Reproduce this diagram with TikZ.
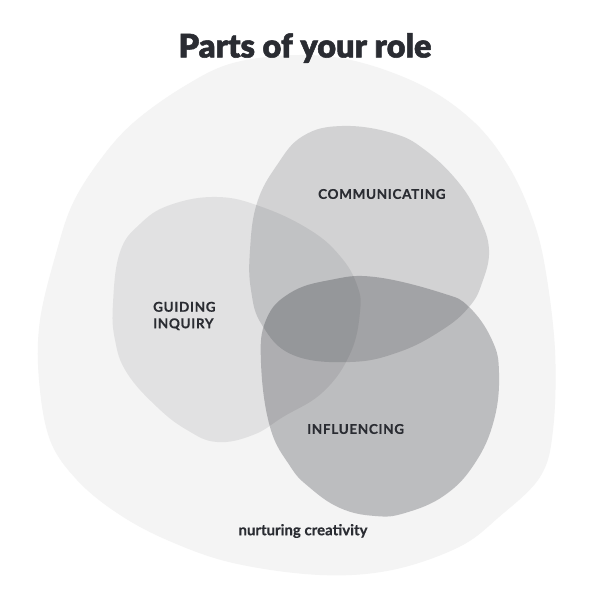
\documentclass[tikz,border=0pt]{standalone}
\usepackage{fontspec}
\setmainfont{Lato}
\newfontfamily\titlefont[FakeBold=1.6]{Lato Black}
\newfontfamily\labelfont[LetterSpace=5,FakeBold=0.4]{Lato Bold}
\newfontfamily\notefont[FakeBold=0.3]{Lato Bold}
\definecolor{outerfill}{RGB}{244,244,244}
\definecolor{ink}{RGB}{10,12,20}
\definecolor{txt}{RGB}{42,44,50}
\tikzset{
  blob/.style={fill=ink, draw=none},
  lbl/.style={text=txt, font=\labelfont\fontsize{13.5}{16.5}\selectfont, inner sep=0pt, align=left},
}
\begin{document}
\begin{tikzpicture}[x=1pt,y=-1pt]
\useasboundingbox (0,0) rectangle (592,601);
\fill[white] (0,0) rectangle (592,601);
% outer blob
\fill[outerfill] plot[smooth cycle, tension=0.6] coordinates {
 (300,55) (359,62) (425,87) (475,123) (509,167) (532,217) (545,267)
 (555,350) (553,430) (540,477) (499,517) (459,547) (392,570) (320,575)
 (233,563) (167,540) (117,513) (77,480) (50,440) (39,380) (40,320)
 (57,250) (73,203) (100,160) (133,123) (183,87) (233,63)};
% guiding inquiry
\fill[blob, fill opacity=0.078] plot[smooth cycle, tension=0.7] coordinates {
 (217,197) (262,207) (310,230) (340,256) (357,285) (360,312) (350,354)
 (323,392) (283,417) (253,435) (217,442) (187,430) (157,407) (127,373)
 (115,340) (113,303) (120,252) (140,224) (170,205)};
% communicating
\fill[blob, fill opacity=0.147] plot[smooth cycle, tension=0.7] coordinates {
 (342,126) (392,133) (425,150) (459,183) (479,217) (489,250) (482,283)
 (469,307) (442,330) (399,352) (350,362) (293,355) (262,325) (251,290)
 (250,250) (257,203) (277,165) (303,136)};
% influencing
\fill[blob, fill opacity=0.235] plot[smooth cycle, tension=0.7] coordinates {
 (375,277) (442,293) (469,307) (492,340) (499,373) (494,420) (475,463)
 (445,495) (405,513) (375,516) (340,508) (309,487) (290,466) (270,427)
 (261,363) (266,320) (290,293) (330,280)};
% texts
\node[text=txt, font=\titlefont\fontsize{32.5}{37}\selectfont] (title) at (305,48) {Parts of your role};
\node[lbl, anchor=west] (comm) at (318,194) {COMMUNICATING};
\node[lbl, anchor=west] (guid) at (153,316) {GUIDING\\INQUIRY};
\node[lbl, anchor=west] (infl) at (307,429) {INFLUENCING};
\node[text=txt, font=\notefont\fontsize{15}{18}\selectfont] (nurt) at (303,531) {nurturing creativity};
\end{tikzpicture}
\end{document}
